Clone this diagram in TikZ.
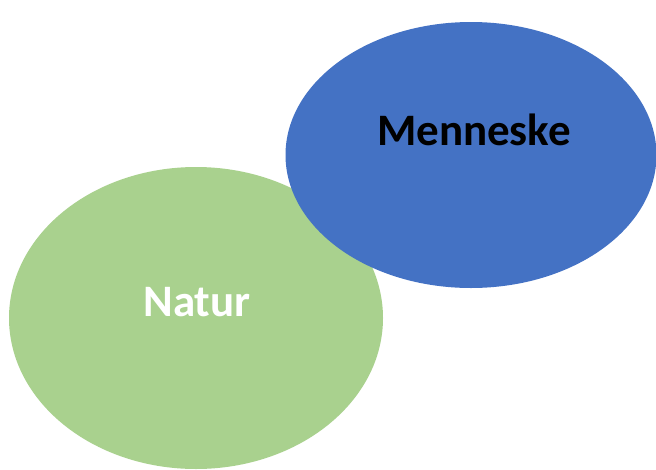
\documentclass[tikz,border=0pt]{standalone}
\usepackage{fontspec}
\setmainfont{Carlito}
\usepackage{tikz}
\usetikzlibrary{shapes.geometric, positioning}
\definecolor{naturgreen}{HTML}{A9D18E}
\definecolor{menneskeblue}{HTML}{4472C4}

\begin{document}
\begin{tikzpicture}[x=1pt, y=-1pt]
\useasboundingbox (0,0) rectangle (656,469);
% ellipses %
\node[ellipse, fill=naturgreen, inner sep=0, minimum width=374pt, minimum height=302pt] (natur) at (196,318) {};
\node[ellipse, fill=menneskeblue, inner sep=0, minimum width=371pt, minimum height=266pt] (menneske) at (471,155) {};
% labels %
\node[text=white, font=\fontsize{45}{50}\selectfont\bfseries] (naturtxt) at (197,302) {Natur};
\node[text=black, font=\fontsize{45}{50}\selectfont\bfseries] (mennesketxt) at (474,130) {Menneske};
\end{tikzpicture}
\end{document}
